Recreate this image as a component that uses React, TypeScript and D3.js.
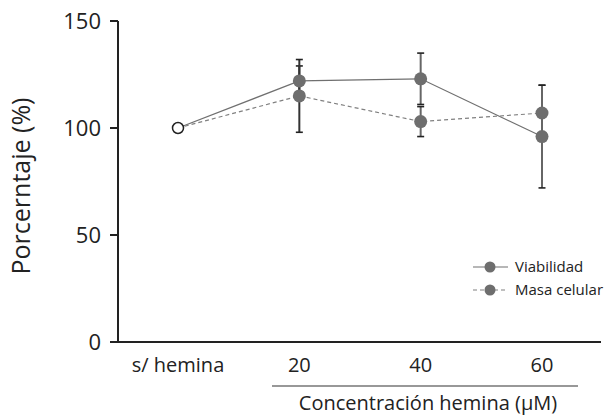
import React from "react";
import * as d3 from "d3";

const categories = ["s/ hemina", "20", "40", "60"];
const viabilidad = [100, 122, 123, 96];
const viabilidadSD = [0, 7, 12, 24];
const masaCelular = [100, 115, 103, 107];
const masaCelularSD = [0, 17, 7, 13];
const yTicks = [0, 50, 100, 150];
const seriesNames = ["Viabilidad", "Masa celular"];

const W = 606;
const H = 416;
const FONT = "'Open Sans', 'Noto Sans', sans-serif";

export default function App() {
  const x = d3.scalePoint<string>().domain(categories).range([178, 542]);
  const y = d3.scaleLinear().domain([0, 150]).range([342, 21]);
  const axisX = 118;
  const line = d3
    .line<number>()
    .x((_, i) => x(categories[i]) as number)
    .y((d) => y(d));

  const series = [
    { name: seriesNames[0], vals: viabilidad, sd: viabilidadSD, dash: undefined as string | undefined, color: "#707070" },
    { name: seriesNames[1], vals: masaCelular, sd: masaCelularSD, dash: "4,3", color: "#808080" },
  ];

  return (
    <svg
      width={W}
      height={H}
      style={{ position: "absolute", left: 0, top: 0, background: "#fff" }}
      fontFamily={FONT}
    >
      {/* error bars */}
      {series.map((s, si) =>
        s.vals.map((v, i) => {
          if (!s.sd[i]) return null;
          const cx = x(categories[i]) as number;
          const y1 = y(v - s.sd[i]);
          const y2 = y(v + s.sd[i]);
          return (
            <g key={`e${si}-${i}`}>
              <line x1={cx} x2={cx} y1={y1} y2={y2} stroke={i === 1 ? "#333" : "#666"} strokeWidth={2} />
              <line x1={cx - 3.5} x2={cx + 3.5} y1={y1} y2={y1} stroke="#222" strokeWidth={1.6} />
              <line x1={cx - 3.5} x2={cx + 3.5} y1={y2} y2={y2} stroke="#222" strokeWidth={1.6} />
            </g>
          );
        })
      )}
      {/* lines */}
      {series.map((s, si) => (
        <path
          key={`l${si}`}
          d={line(s.vals) as string}
          fill="none"
          stroke={s.color}
          strokeWidth={1.2}
          strokeDasharray={s.dash}
        />
      ))}
      {/* markers */}
      {series.map((s, si) =>
        s.vals.map((v, i) =>
          i === 0 ? null : (
            <circle key={`m${si}-${i}`} cx={x(categories[i]) as number} cy={y(v)} r={6.5} fill="#6e6e6e" />
          )
        )
      )}
      <circle cx={x(categories[0]) as number} cy={y(viabilidad[0])} r={5.5} fill="#fff" stroke="#222" strokeWidth={1.5} />

      {/* y axis */}
      <line x1={axisX} x2={axisX} y1={y(150)} y2={y(0)} stroke="#222" strokeWidth={2} />
      {yTicks.map((t) => (
        <g key={`yt${t}`}>
          <line x1={axisX - 8} x2={axisX} y1={y(t)} y2={y(t)} stroke="#222" strokeWidth={2} />
          <text x={101} y={y(t)} dy="0.36em" textAnchor="end" fontSize={22} fill="#222">
            {t}
          </text>
        </g>
      ))}
      <text transform={`translate(30,186) rotate(-90)`} textAnchor="middle" fontSize={25} fill="#222">
        Porcerntaje (%)
      </text>

      {/* x axis */}
      <line x1={110} x2={601} y1={y(0)} y2={y(0)} stroke="#222" strokeWidth={2} />
      {categories.map((c) => (
        <text key={`xt${c}`} x={x(c) as number} y={372} textAnchor="middle" fontSize={20} fill="#222">
          {c}
        </text>
      ))}
      <line x1={272} x2={578} y1={386} y2={386} stroke="#333" strokeWidth={1.2} />
      <text x={428} y={410} textAnchor="middle" fontSize={20} fill="#222">
        Concentración hemina (µM)
      </text>

      {/* legend */}
      {series.map((s, si) => (
        <g key={`lg${si}`} transform={`translate(0, ${267 + si * 23})`}>
          <line x1={473} x2={508} y1={0} y2={0} stroke={s.color} strokeWidth={1.2} strokeDasharray={s.dash} />
          <circle cx={490} cy={0} r={5.5} fill="#6e6e6e" />
          <text x={515} y={0} dy="0.35em" fontSize={15} fill="#222">
            {s.name}
          </text>
        </g>
      ))}
    </svg>
  );
}
